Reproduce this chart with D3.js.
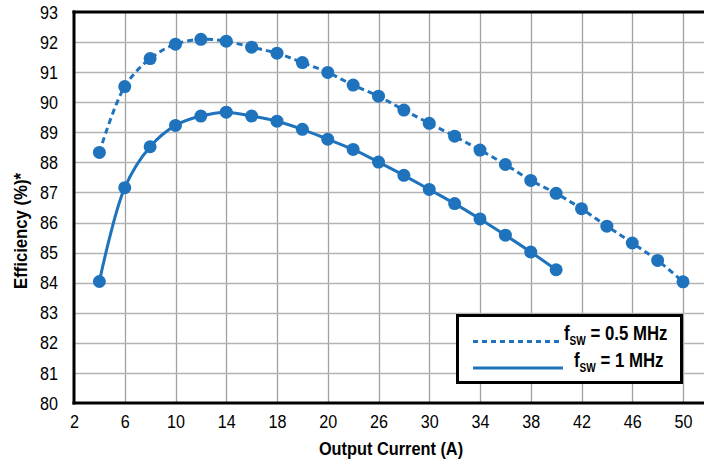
<!DOCTYPE html>
<html>
<head>
<meta charset="utf-8">
<script src="https://cdn.jsdelivr.net/npm/d3@7"></script>
<style>
body { margin: 0; background: #fff; }
svg text { font-family: "Liberation Sans", Arial, sans-serif; fill: #000; }
</style>
</head>
<body>
<div id="chart"></div>
<script>
// data
var currents05 = [4, 6, 8, 10, 12, 14, 16, 18, 20, 22, 24, 26, 28, 30, 32, 34, 36, 38, 40, 42, 44, 46, 48, 50];
var eff05      = [88.33, 90.52, 91.45, 91.93, 92.09, 92.03, 91.83, 91.63, 91.32, 90.99, 90.57, 90.2,
                  89.74, 89.3, 88.87, 88.41, 87.93, 87.4, 86.97, 86.46, 85.88, 85.32, 84.74, 84.03];
var currents1  = [4, 6, 8, 10, 12, 14, 16, 18, 20, 22, 24, 26, 28, 30, 32, 34, 36, 38, 40];
var eff1       = [84.04, 87.16, 88.52, 89.23, 89.54, 89.67, 89.54, 89.37, 89.1, 88.77, 88.43, 88.01,
                  87.57, 87.1, 86.63, 86.12, 85.58, 85.02, 84.43];
var xTickValues = [2, 6, 10, 14, 18, 22, 26, 30, 34, 38, 42, 46, 50];
var xTickLabels = ["2", "6", "10", "14", "18", "20", "26", "30", "34", "38", "42", "46", "50"];
var yTickValues = [80, 81, 82, 83, 84, 85, 86, 87, 88, 89, 90, 91, 92, 93];

var width = 704, height = 464;
var blue = "#1f73bd";

// squeeze a text horizontally around its x anchor (no condensed font installed)
function condense(sel, s) {
	sel.each(function() {
		var t = d3.select(this);
		var x0 = +t.attr("x") || 0;
		t.attr("transform", "matrix(" + s + ",0,0,1," + (x0 * (1 - s)) + ",0)");
	});
}

var svg = d3.select("#chart").append("svg")
	.attr("width", width)
	.attr("height", height);

var x = d3.scaleLinear().domain([2, 50]).range([74, 683]);
var y = d3.scaleLinear().domain([80, 93]).range([403, 12]);

// grid
var grid = svg.append("g").attr("class", "grid");
grid.selectAll("line.v")
	.data(xTickValues.slice(1))
	.enter().append("line")
	.attr("x1", function(d) { return Math.round(x(d)) + 0.5; })
	.attr("x2", function(d) { return Math.round(x(d)) + 0.5; })
	.attr("y1", y(93)).attr("y2", y(80))
	.attr("stroke", "#a0a0a0").attr("stroke-width", 1.3);
grid.selectAll("line.h")
	.data(yTickValues.slice(1, -1))
	.enter().append("line")
	.attr("y1", function(d) { return Math.round(y(d)) + 0.5; })
	.attr("y2", function(d) { return Math.round(y(d)) + 0.5; })
	.attr("x1", x(2)).attr("x2", width)
	.attr("stroke", "#b4b4b4").attr("stroke-width", 1.3);

// frame: left, bottom, top
svg.append("line").attr("x1", x(2)).attr("x2", x(2)).attr("y1", y(93) - 1.5).attr("y2", y(80) + 1.5)
	.attr("stroke", "#000").attr("stroke-width", 3);
svg.append("line").attr("x1", x(2) - 1.5).attr("x2", width).attr("y1", y(80)).attr("y2", y(80))
	.attr("stroke", "#000").attr("stroke-width", 3);
svg.append("line").attr("x1", x(2) - 1.5).attr("x2", width).attr("y1", y(93)).attr("y2", y(93))
	.attr("stroke", "#000").attr("stroke-width", 3);

// axes (labels only)
var xAxis = d3.axisBottom(x)
	.tickValues(xTickValues)
	.tickSize(0)
	.tickPadding(12)
	.tickFormat(function(d, i) { return xTickLabels[i]; });
var gx = svg.append("g").attr("transform", "translate(0," + y(80) + ")").call(xAxis);
gx.select(".domain").remove();
gx.selectAll("text").style("font-size", "19px").attr("fill", "#000").call(condense, 0.85);

var yAxis = d3.axisLeft(y)
	.tickValues(yTickValues)
	.tickSize(0)
	.tickPadding(16)
	.tickFormat(d3.format("d"));
var gy = svg.append("g").attr("transform", "translate(" + x(2) + ",0)").call(yAxis);
gy.select(".domain").remove();
gy.selectAll("text").style("font-size", "19px").attr("fill", "#000").call(condense, 0.85);

// axis titles
svg.append("text")
	.attr("x", 391).attr("y", 455)
	.attr("text-anchor", "middle")
	.style("font-size", "19px").style("font-weight", "bold")
	.text("Output Current (A)")
	.call(condense, 0.86);
svg.append("g")
	.attr("transform", "translate(27,231) rotate(-90)")
	.append("text")
	.attr("x", 0).attr("y", 0)
	.attr("text-anchor", "middle")
	.style("font-size", "19px").style("font-weight", "bold")
	.text("Efficiency (%)*")
	.call(condense, 0.88);

// series
var series = [
	{ xs: currents05, ys: eff05, dash: "6,4" },
	{ xs: currents1,  ys: eff1,  dash: null }
];
var line = d3.line()
	.x(function(d) { return x(d[0]); })
	.y(function(d) { return y(d[1]); })
	.curve(d3.curveCatmullRom.alpha(0.5));

series.forEach(function(s) {
	var pts = s.xs.map(function(v, i) { return [v, s.ys[i]]; });
	svg.append("path")
		.attr("d", line(pts))
		.attr("fill", "none")
		.attr("stroke", blue)
		.attr("stroke-width", 3)
		.attr("stroke-dasharray", s.dash);
	svg.append("g").selectAll("circle")
		.data(pts)
		.enter().append("circle")
		.attr("cx", function(d) { return x(d[0]); })
		.attr("cy", function(d) { return y(d[1]); })
		.attr("r", 6.5)
		.attr("fill", blue);
});

// legend
var legend = svg.append("g");
legend.append("rect")
	.attr("x", 457.5).attr("y", 315.5).attr("width", 224).attr("height", 67)
	.attr("fill", "#fff").attr("stroke", "#000").attr("stroke-width", 3);
legend.append("line")
	.attr("x1", 473).attr("x2", 563).attr("y1", 341.5).attr("y2", 341.5)
	.attr("stroke", blue).attr("stroke-width", 3).attr("stroke-dasharray", "5,4");
legend.append("line")
	.attr("x1", 473).attr("x2", 563).attr("y1", 368).attr("y2", 368)
	.attr("stroke", blue).attr("stroke-width", 3);

function legendLabel(xPos, yPos, value) {
	var t = legend.append("text")
		.attr("x", xPos).attr("y", yPos)
		.style("font-size", "20px").style("font-weight", "bold");
	t.append("tspan").text("f");
	t.append("tspan").attr("dy", 5).style("font-size", "12px").text("SW");
	t.append("tspan").attr("dy", -5).text(" = " + value);
	t.call(condense, 0.84);
}
legendLabel(564, 340, "0.5 MHz");
legendLabel(574, 367, "1 MHz");
</script>
</body>
</html>
